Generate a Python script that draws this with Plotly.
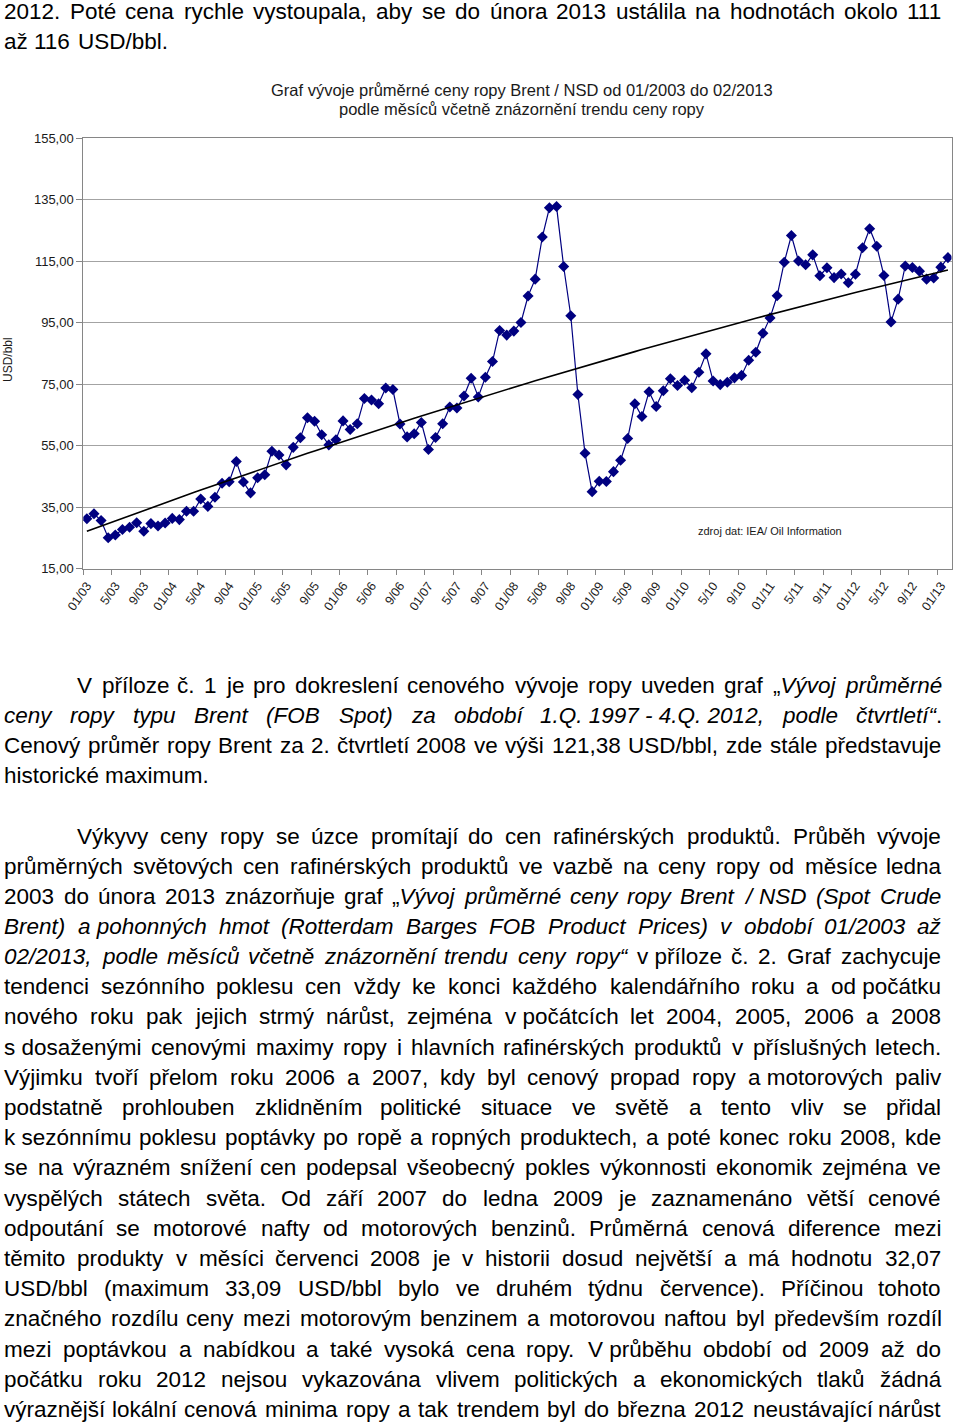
import unicodedata
import numpy as np
import plotly.graph_objects as go

# ---------------- data (USD/bbl, monthly average Brent) ----------------
prices_2003 = [31.2, 32.8, 30.6, 25.0, 25.9, 27.7, 28.4, 29.9, 27.1, 29.6, 28.8, 29.8]
prices_2004 = [31.3, 30.9, 33.6, 33.6, 37.6, 35.2, 38.2, 42.7, 43.2, 49.8, 43.1, 39.6]
prices_2005 = [44.5, 45.5, 53.1, 51.9, 48.7, 54.4, 57.5, 64.0, 62.9, 58.5, 55.2, 56.9]
prices_2006 = [63.0, 60.2, 62.1, 70.3, 69.8, 68.6, 73.7, 73.2, 62.0, 57.8, 58.8, 62.5]
prices_2007 = [53.7, 57.6, 62.1, 67.5, 67.2, 71.1, 76.9, 70.8, 77.2, 82.3, 92.4, 90.9]
prices_2008 = [92.2, 95.0, 103.6, 109.1, 122.8, 132.3, 132.7, 113.2, 97.2, 71.6, 52.5, 40.0]
prices_2009 = [43.4, 43.3, 46.5, 50.2, 57.3, 68.6, 64.4, 72.5, 67.7, 72.8, 76.7, 74.5]
prices_2010 = [76.2, 73.8, 78.8, 84.8, 76.0, 74.8, 75.6, 77.0, 77.8, 82.7, 85.3, 91.5]
prices_2011 = [96.5, 103.7, 114.6, 123.3, 115.0, 113.8, 117.0, 110.2, 112.8, 109.6, 110.8, 107.9]
prices_2012 = [110.7, 119.3, 125.5, 119.8, 110.3, 95.2, 102.6, 113.4, 112.9, 111.7, 109.1, 109.5]
prices_2013 = [113.0, 116.1]

tick_labels = ["01/03", "5/03", "9/03", "01/04", "5/04", "9/04", "01/05", "5/05", "9/05",
               "01/06", "5/06", "9/06", "01/07", "5/07", "9/07", "01/08", "5/08", "9/08",
               "01/09", "5/09", "9/09", "01/10", "5/10", "9/10", "01/11", "5/11", "9/11",
               "01/12", "5/12", "9/12", "01/13"]
y_ticks = [15, 35, 55, 75, 95, 115, 135, 155]
y_tick_text = ["15,00", "35,00", "55,00", "75,00", "95,00", "115,00", "135,00", "155,00"]

prices = (prices_2003 + prices_2004 + prices_2005 + prices_2006 + prices_2007 + prices_2008
          + prices_2009 + prices_2010 + prices_2011 + prices_2012 + prices_2013)
idx = list(range(len(prices)))
tick_pos = [4 * i for i in range(len(tick_labels))]

# trend of the oil price (least-squares polynomial trendline, as in Excel)
coef = np.polyfit(idx, prices, 2)
trend = np.polyval(coef, idx)

# ---------------- page geometry ----------------
W, H = 960, 1423
PL, PR, PT, PB = 83.3, 951.5, 138.0, 568.5

def px(x):
    return x / W

def py(y):
    return 1 - y / H

fig = go.Figure()
fig.add_trace(go.Scatter(
    x=idx, y=prices, mode="lines+markers",
    line=dict(color="#000080", width=1.2),
    marker=dict(symbol="diamond", size=8.5, color="#000080"),
    showlegend=False, hoverinfo="skip"))
fig.add_trace(go.Scatter(
    x=idx, y=trend, mode="lines",
    line=dict(color="#000000", width=1.6),
    showlegend=False, hoverinfo="skip"))

annotations = []
CH = "Liberation Sans, Arial, sans-serif"

# chart texts
annotations.append(dict(text="Graf vývoje průměrné ceny ropy Brent / NSD od 01/2003 do 02/2013",
                        x=px(522), y=py(90), xref="paper", yref="paper", xanchor="center",
                        yanchor="middle", showarrow=False, font=dict(family=CH, size=16.5, color="#1a1a1a")))
annotations.append(dict(text="podle měsíců včetně znázornění trendu ceny ropy",
                        x=px(522), y=py(108.5), xref="paper", yref="paper", xanchor="center",
                        yanchor="middle", showarrow=False, font=dict(family=CH, size=16.5, color="#1a1a1a")))
annotations.append(dict(text="zdroj dat: IEA/ Oil Information",
                        x=px(696), y=py(530.5), xref="paper", yref="paper", xanchor="left",
                        yanchor="middle", showarrow=False, font=dict(family=CH, size=11, color="#1a1a1a")))
annotations.append(dict(text="USD/bbl", textangle=-90,
                        x=px(8), y=py(360), xref="paper", yref="paper", xanchor="center",
                        yanchor="middle", showarrow=False, font=dict(family=CH, size=12, color="#1a1a1a")))

# ---------------- body text (justified) ----------------
NB = "\u00a0"
lines = [
    # (text, y_center, left, right, justified)
    ("2012. Poté cena rychle vystoupala, aby se do února 2013 ustálila na hodnotách okolo 111", 11.5, 4, 945, True),
    ("až 116 USD/bbl.", 41.5, 4, 942, False),
    ("V příloze č. 1 je pro dokreslení cenového vývoje ropy uveden graf „_Vývoj průměrné", 685, 77, 941, True),
    ("ceny ropy typu Brent (FOB Spot) za období 1.Q." + NB + "1997" + NB + "-" + NB + "4.Q." + NB + "2012, podle čtvrtletí“_.", 715, 4, 941, True),
    ("Cenový průměr ropy Brent za 2. čtvrtletí 2008 ve výši 121,38 USD/bbl, zde stále představuje", 745, 4, 941, True),
    ("historické maximum.", 775, 4, 941, False),
    ("Výkyvy ceny ropy se úzce promítají do cen rafinérských produktů. Průběh vývoje", 836, 77, 941, True),
    ("průměrných světových cen rafinérských produktů ve vazbě na ceny ropy od měsíce ledna", 866, 4, 941, True),
    ("2003 do února 2013 znázorňuje graf „_Vývoj průměrné ceny ropy Brent / NSD (Spot Crude", 896, 4, 941, True),
    ("Brent) a" + NB + "pohonných hmot (Rotterdam Barges FOB Product Prices) v období 01/2003 až", 926, 4, 941, True),
    ("02/2013, podle měsíců včetně znázornění trendu ceny ropy“_ v" + NB + "příloze č. 2. Graf zachycuje", 956, 4, 941, True),
    ("tendenci sezónního poklesu cen vždy ke konci každého kalendářního roku a od" + NB + "počátku", 986, 4, 941, True),
    ("nového roku pak jejich strmý nárůst, zejména v" + NB + "počátcích let 2004, 2005, 2006 a 2008", 1016, 4, 941, True),
    ("s" + NB + "dosaženými cenovými maximy ropy i hlavních rafinérských produktů v příslušných letech.", 1047, 4, 941, True),
    ("Výjimku tvoří přelom roku 2006 a 2007, kdy byl cenový propad ropy a" + NB + "motorových paliv", 1077, 4, 941, True),
    ("podstatně prohlouben zklidněním politické situace ve světě a tento vliv se přidal", 1107, 4, 941, True),
    ("k" + NB + "sezónnímu poklesu poptávky po ropě a ropných produktech, a poté konec roku 2008, kde", 1137, 4, 941, True),
    ("se na výrazném snížení cen podepsal všeobecný pokles výkonnosti ekonomik zejména ve", 1167, 4, 941, True),
    ("vyspělých státech světa. Od září 2007 do ledna 2009 je zaznamenáno větší cenové", 1198, 4, 941, True),
    ("odpoutání se motorové nafty od motorových benzinů. Průměrná cenová diference mezi", 1228, 4, 941, True),
    ("těmito produkty v měsíci červenci 2008 je v historii dosud největší a má hodnotu 32,07", 1258, 4, 941, True),
    ("USD/bbl (maximum 33,09 USD/bbl bylo ve druhém týdnu července). Příčinou tohoto", 1288, 4, 941, True),
    ("značného rozdílu ceny mezi motorovým benzinem a motorovou naftou byl především rozdíl", 1318, 4, 941, True),
    ("mezi poptávkou a nabídkou a také vysoká cena ropy. V" + NB + "průběhu období od 2009 až do", 1349, 4, 941, True),
    ("počátku roku 2012 nejsou vykazována vlivem politických a ekonomických tlaků žádná", 1379, 4, 941, True),
    ("výraznější lokální cenová minima ropy a tak trendem byl do března 2012 neustávající nárůst", 1409, 4, 941, True),
]

# Arial / Liberation Sans advance widths (1/1000 em)
AW = dict(A=667, B=667, C=722, D=722, E=667, F=611, G=778, H=722, I=278, J=500, K=667, L=556, M=833,
          N=722, O=778, P=667, Q=778, R=722, S=667, T=611, U=722, V=667, W=944, X=667, Y=667, Z=611,
          a=556, b=556, c=500, d=556, e=556, f=278, g=556, h=556, i=222, j=222, k=500, l=222, m=833,
          n=556, o=556, p=556, q=556, r=333, s=500, t=278, u=556, v=500, w=722, x=500, y=500, z=500)
AW.update({str(d): 556 for d in range(10)})
AW.update({" ": 278, NB: 278, ".": 278, ",": 278, ":": 278, ";": 278, "(": 333, ")": 333,
           "/": 278, "-": 333, "„": 333, "“": 333, "\"": 355, "!": 278, "?": 556})

def cw(ch):
    if ch in AW:
        return AW[ch]
    base = unicodedata.normalize("NFD", ch)[0]
    return AW.get(base, 556)

italic = False
parsed = []
for text, yc, left, right, just in lines:
    words = []
    cur = []
    for ch in text:
        if ch == "_":
            italic = not italic
            continue
        if ch == " ":
            if cur:
                words.append(cur)
            cur = []
            continue
        cur.append((ch, italic))
    if cur:
        words.append(cur)
    parsed.append((words, yc, left, right, just))

def em_width(word):
    return sum(cw(c) for c, _ in word) / 1000.0

fs = 22.5
for words, yc, left, right, just in parsed:
    if just and len(words) > 1:
        A = sum(em_width(w) for w in words)
        fs = min(fs, (right - left) / (A + 0.25 * (len(words) - 1)))

BODY = "Liberation Sans, Arial, sans-serif"

def to_html(word):
    out = ""
    state = False
    for c, it in word:
        if it != state:
            out += "<i>" if it else "</i>"
            state = it
        out += c
    if state:
        out += "</i>"
    return out

for words, yc, left, right, just in parsed:
    widths = [em_width(w) * fs for w in words]
    if just and len(words) > 1:
        gap = (right - left - sum(widths)) / (len(words) - 1)
    else:
        gap = 0.278 * fs
    xcur = left
    for w, wd in zip(words, widths):
        annotations.append(dict(text=to_html(w), x=px(xcur - 2), y=py(yc), xref="paper", yref="paper",
                                xanchor="left", yanchor="middle", showarrow=False,
                                font=dict(family=BODY, size=fs, color="#000000")))
        xcur += wd + gap

AX = "#868686"
fig.update_layout(
    width=W, height=H, autosize=False,
    margin=dict(l=0, r=0, t=0, b=0, pad=0, autoexpand=False),
    paper_bgcolor="white", plot_bgcolor="white",
    showlegend=False,
    annotations=annotations,
    xaxis=dict(
        domain=[px(PL), px(PR)], automargin=False,
        range=[-0.5, len(prices) - 0.5],
        tickmode="array", tickvals=tick_pos, ticktext=tick_labels,
        tickangle=-55, ticks="outside", ticklen=4, tickcolor="rgba(0,0,0,0)",
        tickfont=dict(family=CH, size=12.5, color="#1a1a1a"),
        showline=True, linecolor=AX, linewidth=1, mirror=True,
        showgrid=False, zeroline=False,
        minor=dict(tickmode="linear", tick0=-0.5, dtick=4, ticks="outside", ticklen=5,
                   tickcolor=AX, showgrid=False),
    ),
    yaxis=dict(
        domain=[py(PB), py(PT)], automargin=False,
        range=[15, 155],
        tickmode="array", tickvals=y_ticks, ticktext=y_tick_text,
        ticks="outside", ticklen=6, tickcolor=AX,
        tickfont=dict(family=CH, size=13, color="#1a1a1a"),
        showline=True, linecolor=AX, linewidth=1, mirror=True,
        showgrid=True, gridcolor="#a3a3a3", gridwidth=1, zeroline=False,
    ),
)

fig.write_html("out.html")
